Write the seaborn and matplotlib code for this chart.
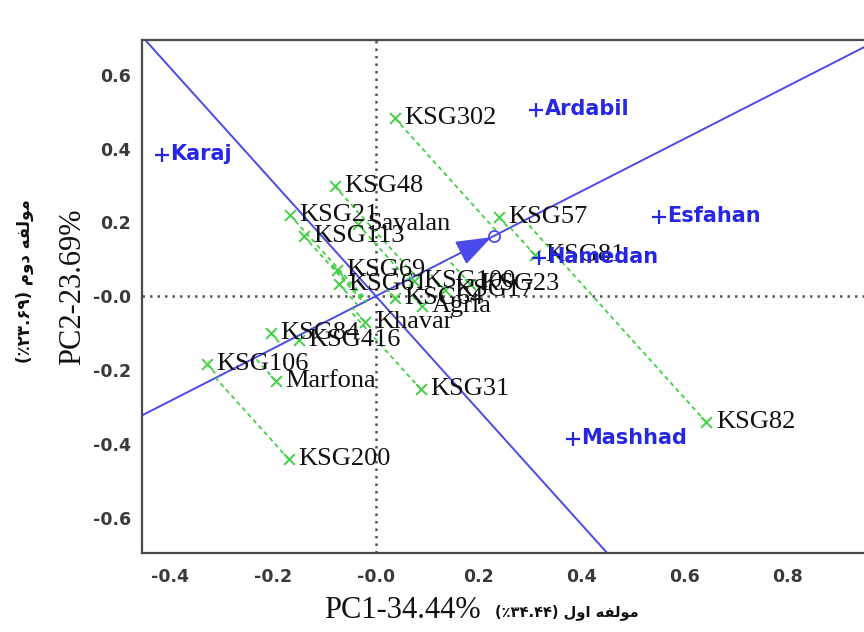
import numpy as np
import pandas as pd
import matplotlib
matplotlib.use("Agg")
import matplotlib.pyplot as plt
import seaborn as sns

# ---------------- data ----------------
genotypes = ["KSG302", "KSG48", "KSG21", "KSG113", "Savalan", "KSG57", "KSG81",
             "KSG69", "KSG61", "KSG100", "KSG17", "KSG23", "KSG64", "Agria",
             "Khavar", "KSG84", "KSG416", "KSG106", "Marfona", "KSG200",
             "KSG31", "KSG82"]
gen_pc1 = [0.037, -0.080, -0.167, -0.140, -0.035, 0.239, 0.309,
           -0.076, -0.072, 0.074, 0.134, 0.183, 0.037, 0.089,
           -0.021, -0.204, -0.150, -0.328, -0.194, -0.169,
           0.087, 0.641]
gen_pc2 = [0.482, 0.298, 0.220, 0.163, 0.195, 0.214, 0.111,
           0.070, 0.033, 0.041, 0.016, 0.033, -0.005, -0.027,
           -0.070, -0.100, -0.119, -0.184, -0.230, -0.442,
           -0.252, -0.341]

environments = ["Karaj", "Ardabil", "Esfahan", "Hamedan", "Mashhad"]
env_pc1 = [-0.416, 0.311, 0.550, 0.317, 0.383]
env_pc2 = [0.382, 0.504, 0.214, 0.103, -0.388]

ordinate_slope = -1.55   # slope of the ATC ordinate as drawn

xticks = [-0.4, -0.2, 0.0, 0.2, 0.4, 0.6, 0.8]
xtick_labels = ["-0.4", "-0.2", "-0.0", "0.2", "0.4", "0.6", "0.8"]
yticks = [-0.6, -0.4, -0.2, 0.0, 0.2, 0.4, 0.6]
ytick_labels = ["-0.6", "-0.4", "-0.2", "-0.0", "0.2", "0.4", "0.6"]

xlabel_en = "PC1-34.44%"
ylabel_en = "PC2-23.69%"
# Persian labels in visual order (presentation forms)
xlabel_fa = "(\u066a\u06f3\u06f4.\u06f4\u06f4) \ufedd\ufeed\ufe8d \ufeea\ufed4\ufedf\ufeee\ufee3"
ylabel_fa = "(\u066a\u06f2\u06f3.\u06f6\u06f9) \ufee1\ufeed\ufea9 \ufeea\ufed4\ufedf\ufeee\ufee3"

gdf = pd.DataFrame({"name": genotypes, "pc1": gen_pc1, "pc2": gen_pc2})
edf = pd.DataFrame({"name": environments, "pc1": env_pc1, "pc2": env_pc2})

# ---------------- style ----------------
sns.set_theme(style="white")
plt.rcParams["font.family"] = ["DejaVu Sans"]

BLUE_LINE = "#4a4ae8"
BLUE_TXT = "#2626e6"
GREEN = "#44d044"

fig = plt.figure(figsize=(8.64, 6.32), dpi=100)
W, H = 864, 632
ax = fig.add_axes([142 / W, 1 - 553 / H, (891 - 142) / W, (553 - 40) / H])
ax.set_xlim(-0.454, 1.0)
ax.set_ylim(-0.696, 0.694)

# reference dotted axes
ax.axhline(0, color="#555555", ls=(0, (1, 2)), lw=1.8, zorder=1)
ax.axvline(0, color="#555555", ls=(0, (1, 2)), lw=1.8, zorder=1)

# average environment and ATC lines
mx, my = np.mean(env_pc1), np.mean(env_pc2)
slope_abs = my / mx
ax.axline((0, 0), slope=slope_abs, color=BLUE_LINE, lw=1.4, zorder=2)
ax.axline((0, 0), slope=ordinate_slope, color=BLUE_LINE, lw=1.4, zorder=2)

# projection lines of genotypes onto the ATC abscissa (parallel to ordinate)
g1 = np.array(gen_pc1)
g2 = np.array(gen_pc2)
t = (-ordinate_slope * g1 + g2) / (-ordinate_slope + slope_abs)
for xg, yg, tt in zip(g1, g2, t):
    ax.plot([xg, tt], [yg, slope_abs * tt], color=GREEN, lw=1.3,
            ls=(0, (2.5, 2)), zorder=2)

# arrow and circle for the average environment
ax.annotate("", xy=(mx, my), xytext=(0.75 * mx, 0.75 * my),
            arrowprops=dict(arrowstyle="-|>,head_length=1.1,head_width=0.4",
                            color=BLUE_LINE, lw=1.4, mutation_scale=20,
                            shrinkA=0, shrinkB=2), zorder=4)
ax.plot([mx], [my], marker="o", ms=8, mfc="none", mec=BLUE_LINE, mew=1.3, zorder=4)

# genotype points
sns.scatterplot(data=gdf, x="pc1", y="pc2", marker="x", s=60, color=GREEN,
                linewidth=1.4, ax=ax, zorder=3, legend=False)
for _, r in gdf.iterrows():
    ax.annotate(r["name"], (r["pc1"], r["pc2"]), xytext=(7, 0),
                textcoords="offset points", ha="left", va="center",
                fontsize=19, family="Liberation Serif", color="#111111", zorder=5)

# environment points
sns.scatterplot(data=edf, x="pc1", y="pc2", marker="+", s=110, color=BLUE_TXT,
                linewidth=1.6, ax=ax, zorder=3, legend=False)
for _, r in edf.iterrows():
    ax.annotate(r["name"], (r["pc1"], r["pc2"]), xytext=(6, 1),
                textcoords="offset points", ha="left", va="center",
                fontsize=15, family="DejaVu Sans", fontweight="bold",
                color=BLUE_TXT, zorder=5)

# ticks
ax.set_xticks(xticks)
ax.set_xticklabels(xtick_labels)
ax.set_yticks(yticks)
ax.set_yticklabels(ytick_labels)
ax.tick_params(axis="x", length=0, pad=11, labelsize=12.5, labelcolor="#3a3a3a")
ax.tick_params(axis="y", length=0, pad=8, labelsize=12.5, labelcolor="#3a3a3a")
for lab in ax.get_xticklabels() + ax.get_yticklabels():
    lab.set_fontweight("bold")
ax.set_xlabel("")
ax.set_ylabel("")

for sp in ax.spines.values():
    sp.set_color("#4a4a4a")
    sp.set_linewidth(1.6)

# axis titles
fig.text(402 / W, 1 - 611 / H, xlabel_en, ha="center", va="center",
         fontsize=22, family="Liberation Serif", color="#111111")
fig.text(567 / W, 1 - 612 / H, xlabel_fa, ha="center", va="center",
         fontsize=10.5, family="DejaVu Sans", fontweight="bold", color="#111111")
fig.text(73 / W, 1 - 287 / H, ylabel_en, ha="center", va="center", rotation=90,
         fontsize=22, family="Liberation Serif", color="#111111")
fig.text(25 / W, 1 - 281 / H, ylabel_fa, ha="center", va="center", rotation=90,
         fontsize=12, family="DejaVu Sans", fontweight="bold", color="#111111")

fig.savefig("out.png", dpi=100)
